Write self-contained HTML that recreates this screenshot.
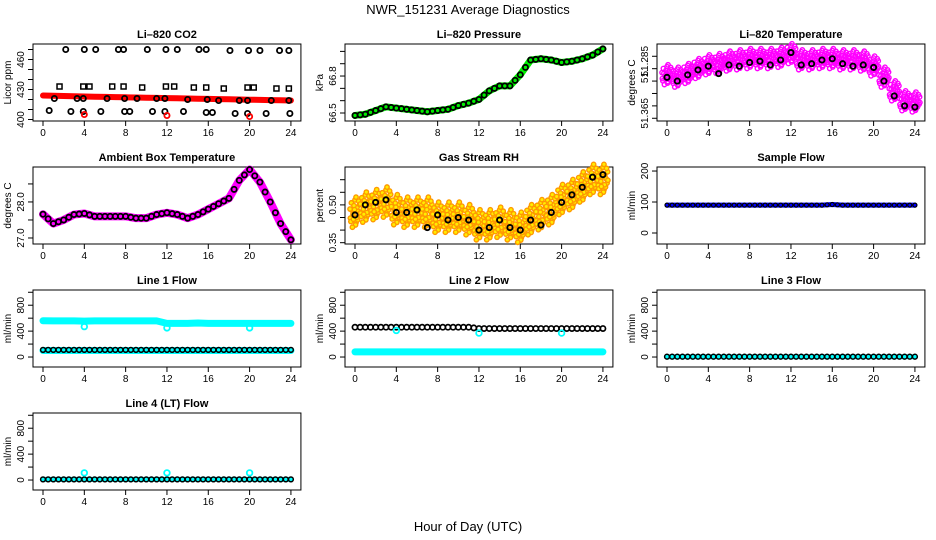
<!DOCTYPE html>
<html><head><meta charset="utf-8"><style>
html,body{margin:0;padding:0;background:#fff;}
svg{display:block;font-family:"Liberation Sans",sans-serif;}
</style></head><body>
<svg id="c" width="936" height="540" viewBox="0 0 936 540">
<text x="468" y="14" text-anchor="middle" font-size="13">NWR_151231  Average Diagnostics</text>
<text x="468" y="531" text-anchor="middle" font-size="13">Hour of Day (UTC)</text>
</svg>
<script>
const hours=[0,1,2,3,4,5,6,7,8,9,10,11,12,13,14,15,16,17,18,19,20,21,22,23,24];
const xTicks=[0,4,8,12,16,20,24];
// CO2
const co2RedLine=[424,423.8,423.5,423.3,423,422.8,422.6,422.4,422.2,422,421.8,421.6,421.4,421.2,421,420.8,420.6,420.4,420.2,420,419.8,419.6,419.4,419.2,419];
const co2HiHrs=[2.2,4,5.1,7.3,7.8,10.1,11.9,13,15.1,15.8,18.1,19.9,21,22.9,23.8];
const co2HiVals=[470,470,470,470,470,470,470,470,470,470,469,469,469,469,469];
const co2SqHrs=[1.6,3.9,4.5,6.7,7.8,9.6,11.9,12.7,14.6,15.8,17.5,19.8,20.4,22.6,23.8];
const co2SqVals=[433,433,433,433,433,432,433,433,432,432,431,432,432,431,431];
const co2MidHrs=[1.1,3.3,3.9,6.2,7.9,9.1,11,11.8,14,15.9,17,19,19.8,22.1,23.8];
const co2MidVals=[421,421,421,421,421,421,421,421,420,420,419,419,419,419,419];
const co2LoHrs=[0.6,2.7,3.9,5.6,7.9,8.4,10.6,11.8,13.6,15.8,16.4,18.6,19.8,21.6,23.9];
const co2LoVals=[409,408,408,408,408,408,408,408,408,407,407,406,406,406,406];
const co2RedHrs=[4,12,20];
const co2RedVals=[405,404,403];
// Pressure
const presVals=[66.48,66.49,66.52,66.55,66.54,66.53,66.52,66.51,66.52,66.53,66.56,66.58,66.61,66.68,66.72,66.72,66.81,66.93,66.94,66.93,66.91,66.92,66.94,66.97,67.02];
// Li-820 temperature (axis units)
const tempCloud=[3.5,3.3,3.6,4.0,4.3,4.4,4.6,4.7,4.8,4.8,4.8,4.9,5.2,4.7,4.7,4.8,4.8,4.7,4.7,4.6,4.2,3.3,2.2,1.4,1.3];
const tempBlack=[3.3,3.0,3.5,3.9,4.2,3.6,4.3,4.2,4.5,4.6,4.3,4.7,5.3,4.3,4.4,4.7,4.8,4.4,4.2,4.3,4.1,3.0,1.8,1.0,0.9];
// Ambient box temperature
const ambVals=[27.66,27.4,27.5,27.65,27.68,27.6,27.6,27.6,27.6,27.55,27.55,27.65,27.7,27.65,27.55,27.65,27.8,27.95,28.1,28.6,28.9,28.55,28.0,27.4,26.95];
// Gas stream RH
const rhCloud=[0.47,0.49,0.5,0.51,0.48,0.47,0.47,0.47,0.45,0.45,0.45,0.44,0.42,0.42,0.43,0.42,0.41,0.44,0.46,0.48,0.52,0.54,0.57,0.6,0.6];
const rhBlack=[0.46,0.50,0.51,0.52,0.47,0.47,0.48,0.41,0.46,0.44,0.45,0.44,0.40,0.41,0.44,0.41,0.40,0.44,0.42,0.47,0.51,0.54,0.57,0.61,0.62];
// Flows
const sampleFlow=[90,90,90,90,90,90,90,90,90,90,90,90,90,90,90,90,92,90,90,90,90,90,90,90,90];
const line1Hi=[560,558,558,558,555,558,558,558,558,558,558,558,520,520,520,525,520,520,520,520,520,520,520,520,520];
const line1Lo=[100,100,100,100,100,100,100,100,100,100,100,100,100,100,100,100,100,100,100,100,100,100,100,100,100];
const line1OutHrs=[4,12,20];
const line1OutVals=[470,450,450];
const line2Black=[460,460,460,460,460,460,460,460,460,460,460,460,440,440,440,440,440,440,440,440,440,440,440,440,440];
const line2Cyan=[80,80,80,80,80,80,80,80,80,80,80,80,80,80,80,80,80,80,80,80,80,80,80,80,80];
const line2OutHrs=[4,12,20];
const line2OutVals=[410,370,370];
const line3Vals=[5,5,5,5,5,5,5,5,5,5,5,5,5,5,5,5,5,5,5,5,5,5,5,5,5];
const line4Vals=[10,10,10,10,10,10,10,10,10,10,10,10,10,10,10,10,10,10,10,10,10,10,10,10,10];
const line4OutHrs=[4,12,20];
const line4OutVals=[110,110,110];

const NS="http://www.w3.org/2000/svg";
const svg=document.getElementById('c');
const X0=[43,355,667], PX=10.33;
const TOP=[44,167,290,413], BOT=[121,244,367,490];
const jit=[[-0.45,-0.5],[0.2,0.45],[0.1,-0.9],[-0.35,0.85],[0.3,0.1],[-0.3,0.2],[0,1.1],[0.05,-1.1],[0.4,-0.3],[-0.1,0.6],
           [-0.2,-0.15],[0.45,0.7],[-0.48,0.3],[0.25,-0.65],[-0.05,0.25],[0.15,-0.45],[-0.4,-0.8],[0.35,1.0],[-0.25,-1.3],[0.48,-0.05],
           [0.1,1.35],[-0.15,-0.6]];
function mk(tag,at,parent){const e=document.createElementNS(NS,tag);for(const k in at)e.setAttribute(k,at[k]);(parent||svg).appendChild(e);return e;}

function panel(name,col,row,title,ylab,lo,hi,ticks,labels){
  const g=mk('g',{});
  
  
  const x0=X0[col],left=x0-10,right=x0+24*PX+10,top=TOP[row],bot=BOT[row];
  const sx=h=>x0+h*PX, sy=v=>bot-(v-lo)/(hi-lo)*(bot-top);
  const t=mk('text',{x:(left+right)/2,y:top-6,'text-anchor':'middle','font-size':11,'font-weight':'bold'},g);
  t.textContent=title;
  
  
  const frame=mk('rect',{x:left,y:top,width:right-left,height:bot-top,fill:'none',stroke:'#000','stroke-width':1},g);
  
  
  xTicks.forEach(h=>{
    mk('line',{x1:sx(h),x2:sx(h),y1:bot,y2:bot+5,stroke:'#000'},g);
    const l=mk('text',{x:sx(h),y:bot+15,'text-anchor':'middle','font-size':10},g);
    l.textContent=h;
    
    
  });
  ticks.forEach(v=>mk('line',{x1:left,x2:left-5,y1:sy(v),y2:sy(v),stroke:'#000'},g));
  labels.forEach(([v,s])=>{
    const yy=sy(v);
    const l=mk('text',{x:left-9,y:yy,'text-anchor':'middle','font-size':10,transform:`rotate(-90 ${left-9} ${yy})`},g);
    l.textContent=s;
    
    
  });
  const my=(top+bot)/2;
  const yl=mk('text',{x:left-22,y:my,'text-anchor':'middle','font-size':10,transform:`rotate(-90 ${left-22} ${my})`},g);
  yl.textContent=ylab;
  
  
  const marks=mk('g',{},g);
  
  
  return {sx,sy,g:marks};
}
function band(p,vals,color,w){
  const pts=vals.map((v,i)=>p.sx(hours[i])+','+p.sy(v)).join(' ');
  const l=mk('polyline',{points:pts,fill:'none',stroke:color,'stroke-width':w,'stroke-linejoin':'round','stroke-linecap':'round'},p.g);
  
  
}
function pts(p,hrs,vals,color,r,sw,shape){
  hrs.forEach((h,i)=>{
    let e;
    if(shape==='sq') e=mk('rect',{x:p.sx(h)-2.5,y:p.sy(vals[i])-2.5,width:5,height:5,fill:'none',stroke:color,'stroke-width':sw},p.g);
    else e=mk('circle',{cx:p.sx(h),cy:p.sy(vals[i]),r:r,fill:'none',stroke:color,'stroke-width':sw},p.g);
    
    
  });
}
function hourlyPts(p,vals,color,r,sw,step){
  for(let i=0;i<vals.length;i++){
    pts(p,[hours[i]],[vals[i]],color,r,sw);
    if(step&&i<vals.length-1) pts(p,[hours[i]+0.5],[(vals[i]+vals[i+1])/2],color,r,sw);
  }
}
function cloud(p,vals,spread,color,inner){
  vals.forEach((v,i)=>{
    jit.forEach(([dx,dy],k)=>{
      const e=mk('circle',{cx:p.sx(hours[i]+dx),cy:p.sy(v+dy*spread),r:2.2,fill:inner||'none',stroke:color,'stroke-width':1.4},p.g);
      
      
    });
  });
}

// Row 1
let p=panel('co2',0,0,'Li\u2013820 CO2','Licor ppm',398.5,475.5,[400,410,420,430,440,450,460,470],[[400,'400'],[430,'430'],[460,'460']]);
band(p,co2RedLine,'#ff0000',6);
pts(p,co2HiHrs,co2HiVals,'#000',2.6,1.8);
pts(p,co2SqHrs,co2SqVals,'#000',2.6,1.5,'sq');
pts(p,co2MidHrs,co2MidVals,'#000',2.6,1.8);
pts(p,co2LoHrs,co2LoVals,'#000',2.6,1.8);
pts(p,co2RedHrs,co2RedVals,'#ff0000',2.6,1.8);

p=panel('pressure',1,0,'Li\u2013820 Pressure','kPa',66.435,67.06,[66.5,66.6,66.7,66.8,66.9,67.0],[[66.5,'66.5'],[66.8,'66.8']]);
band(p,presVals,'#00ee00',7);
hourlyPts(p,presVals,'#000',2.6,1.8,true);

p=panel('li820-temp',2,0,'Li\u2013820 Temperature','degrees C',-0.22,5.99,[0,1,2,3,4,5],[[0.4,'51.365'],[3.4,'51.'],[4.6,'51.285']]);
cloud(p,tempCloud,0.6,'#ff00ff');
hourlyPts(p,tempBlack,'#000',2.6,1.9,false);

// Row 2
p=panel('ambient-temp',0,1,'Ambient Box Temperature','degrees C',26.833,28.97,[27.0,27.5,28.0,28.5],[[27.0,'27.0'],[28.0,'28.0']]);
band(p,ambVals,'#ff00ff',8);
hourlyPts(p,ambVals,'#000',2.6,1.8,true);

p=panel('gas-rh',1,1,'Gas Stream RH','percent',0.3448,0.6504,[0.35,0.40,0.45,0.50,0.55,0.60],[[0.35,'0.35'],[0.50,'0.50']]);
cloud(p,rhCloud,0.045,'#ff9900','#ffee00');
hourlyPts(p,rhBlack,'#000',2.6,1.9,false);

p=panel('sample-flow',2,1,'Sample Flow','ml/min',-35.5,213,[0,100,200],[[0,'0'],[100,'100'],[200,'200']]);
band(p,sampleFlow,'#0000ff',5);
hourlyPts(p,sampleFlow,'#000',2,1.2,true);

// Row 3
const fT=[0,200,400,600,800,1000], fL=[[0,'0'],[400,'400'],[800,'800']];
p=panel('line1-flow',0,2,'Line 1 Flow','ml/min',-154,1035,fT,fL);
band(p,line1Hi,'#00ffff',7);
band(p,line1Lo,'#00ffff',7);
hourlyPts(p,line1Lo.map(v=>v+10),'#000',2.4,1.5,true);
pts(p,line1OutHrs,line1OutVals,'#00ffff',2.8,1.8);

p=panel('line2-flow',1,2,'Line 2 Flow','ml/min',-154,1035,fT,fL);
band(p,line2Cyan,'#00ffff',7);
hourlyPts(p,line2Black,'#000',2.6,1.7,true);
pts(p,line2OutHrs,line2OutVals,'#00ffff',2.8,1.8);

p=panel('line3-flow',2,2,'Line 3 Flow','ml/min',-154,1035,fT,fL);
band(p,line3Vals,'#00ffff',5);
hourlyPts(p,line3Vals,'#000',2.4,1.5,true);

// Row 4
p=panel('line4-flow',0,3,'Line 4 (LT) Flow','ml/min',-154,1035,fT,fL);
band(p,line4Vals,'#00ffff',5);
hourlyPts(p,line4Vals,'#000',2.4,1.5,true);
pts(p,line4OutHrs,line4OutVals,'#00ffff',2.8,1.8);
</script>
</body></html>
